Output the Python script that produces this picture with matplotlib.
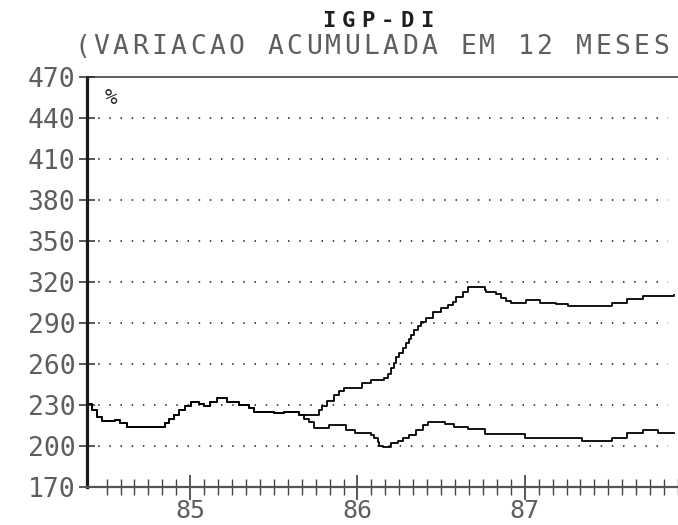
# -*- coding: utf-8 -*-
"""
IGP-DI - variacao acumulada em 12 meses (grafico estilo impressora matricial)
"""

import numpy as np
import matplotlib
matplotlib.use('Agg')
import matplotlib.pyplot as plt


## Dados (ano decimal, valor em %)

# Trecho comum as duas curvas (ate meados de 85)
t_comum = [84.383, 84.41, 84.44, 84.47, 84.55, 84.58, 84.62, 84.85, 84.875, 84.905,
           84.935, 84.97, 85.005, 85.05, 85.08, 85.12, 85.16, 85.22, 85.29, 85.35,
           85.38, 85.50, 85.56, 85.65]
v_comum = [231, 226, 221, 218, 219, 217, 214, 217, 220, 223,
           226, 229, 232, 231, 229, 232, 235, 232, 230, 228,
           225, 224, 225, 223]

# Curva que sobe a partir de 86
t_alta = [85.75, 85.77, 85.79, 85.82, 85.86, 85.89, 85.92, 86.03, 86.08, 86.16,
          86.18, 86.20, 86.22, 86.23, 86.25, 86.27, 86.29, 86.31, 86.32, 86.34,
          86.36, 86.38, 86.41, 86.45, 86.50, 86.54, 86.57, 86.59, 86.63, 86.66,
          86.76, 86.77, 86.83, 86.86, 86.89, 86.92, 87.01, 87.09, 87.19, 87.26,
          87.52, 87.61, 87.71, 87.89]
v_alta = [223, 226, 229, 233, 237, 240, 242.5, 246, 248, 250,
          253, 257, 261, 265, 268, 272, 275, 278, 281, 285,
          288, 291, 294, 298, 301, 303, 305, 309, 313, 316,
          314.5, 313, 311, 308, 306, 304.6, 307, 304.6, 304, 302.4,
          304.6, 307.5, 310, 310.5]

# Curva que fica em torno de 200-215
t_baixa = [85.68, 85.71, 85.74, 85.83, 85.93, 85.985, 86.08, 86.10, 86.12, 86.13,
           86.15, 86.20, 86.24, 86.27, 86.31, 86.35, 86.39, 86.42, 86.525, 86.58,
           86.66, 86.76, 87.00, 87.34, 87.52, 87.61, 87.71, 87.80, 87.89]
v_baixa = [220, 217.6, 213, 215.4, 211.7, 209.5, 208, 206, 203, 200,
           199.3, 202, 204, 206, 208, 211.7, 215.4, 217.6, 216, 214,
           212.4, 208.8, 206, 204, 206, 209.5, 211.7, 209.5, 209.5]

# Eixos
y_ticks = [170, 200, 230, 260, 290, 320, 350, 380, 410, 440, 470]
x_anos = [85, 86, 87]
x_rotulos = ['85', '86', '87']
titulo = 'IGP-DI'
subtitulo = '(VARIACAO ACUMULADA EM 12 MESES'


## Figura

W, H = 678, 525
fig = plt.figure(figsize=(W / 100, H / 100), dpi=100)
ax = fig.add_axes([87 / W, 1 - 487 / H, 1 - 87 / W, (487 - 77) / H])

cor_tinta = '#2b2b2b'
cor_texto = '#5e5e5e'
fonte = 'DejaVu Sans Mono'

# Curvas em degraus
t1 = np.array(t_comum + t_alta)
v1 = np.array(v_comum + v_alta)
t2 = np.array(t_comum + t_baixa)
v2 = np.array(v_comum + v_baixa)
ax.plot(t1, v1, drawstyle='steps-post', color='black', linewidth=1.3)
ax.plot(t2, v2, drawstyle='steps-post', color='black', linewidth=1.3)

ax.set_xlim(84.383, 87.89)
ax.set_ylim(170, 470)

# Grade pontilhada
for yv in y_ticks[1:-1]:
    ax.axhline(yv, xmin=0, xmax=0.983, color=cor_tinta, linewidth=1.2,
               linestyle=(0, (0.9, 5.8)), zorder=0)

# Molduras
ax.spines['right'].set_visible(False)
ax.spines['left'].set_linewidth(2.3)
ax.spines['left'].set_color('#1a1a1a')
ax.spines['top'].set_linewidth(1.1)
ax.spines['top'].set_color('#333333')
ax.spines['bottom'].set_linewidth(1.6)
ax.spines['bottom'].set_color('#555555')

# Marcas do eixo y
ax.set_yticks(y_ticks)
ax.set_yticklabels([str(v) for v in y_ticks], family=fonte, size=19, color=cor_texto)
ax.tick_params(axis='y', direction='inout', length=11, width=1.1, color=cor_tinta, pad=3)

# Marcas do eixo x: meses e anos
ax.set_xticks(x_anos)
ax.set_xticklabels(x_rotulos, family=fonte, size=18, color=cor_texto)
ax.set_xticks(np.arange(84.5, 87.95, 1 / 12), minor=True)
ax.tick_params(axis='x', which='major', direction='inout', length=18, width=1.1,
               color=cor_tinta, pad=0)
ax.tick_params(axis='x', which='minor', direction='inout', length=11, width=1.0,
               color='#444444')

# Simbolo de porcentagem dentro do grafico
ax.text(0.04, 0.95, '%', transform=ax.transAxes, ha='center', va='center',
        family=fonte, size=15, color=cor_tinta)


# Texto com passo fixo, como na impressora
def texto_espacado(s, x0, y, passo, **kw):
    for i, c in enumerate(s):
        fig.text((x0 + i * passo) / W, 1 - y / H, c, ha='center', va='center', **kw)


texto_espacado(titulo, 378 - 2.5 * 19.5, 21, 19.5, family=fonte, size=16,
               weight='bold', color='#1e1e1e')
texto_espacado(subtitulo, 82, 47, 19.3, family=fonte, size=19, color=cor_texto)

fig.savefig('out.png', dpi=100)
